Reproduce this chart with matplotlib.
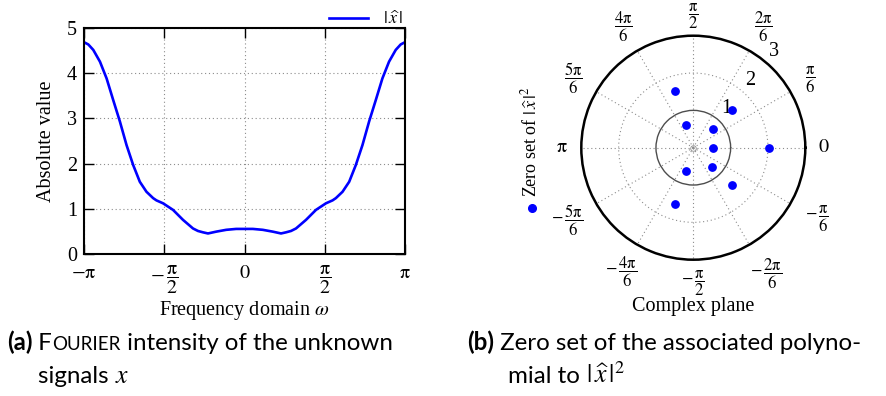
import matplotlib
matplotlib.use('Agg')
import matplotlib.pyplot as plt
import numpy as np

plt.rcParams['font.family'] = ['Liberation Serif', 'DejaVu Serif']
plt.rcParams['mathtext.fontset'] = 'stix'

# Fourier magnitude |x^(omega)| sampled over [-pi, pi]
omega = [-3.1416, -3.057, -2.960, -2.829, -2.699, -2.569, -2.439, -2.309, -2.179,
         -2.049, -1.919, -1.789, -1.724, -1.594, -1.399, -1.204, -1.008, -0.911,
         -0.813, -0.715, -0.553, -0.358, -0.163, 0.0,
         0.163, 0.358, 0.553, 0.715, 0.813, 0.911, 1.008, 1.204, 1.399, 1.594,
         1.724, 1.789, 1.919, 2.049, 2.179, 2.309, 2.439, 2.569, 2.699, 2.829,
         2.960, 3.057, 3.1416]
magnitude = [4.68, 4.63, 4.51, 4.25, 3.88, 3.40, 2.93, 2.41, 1.97,
             1.60, 1.38, 1.24, 1.19, 1.125, 0.98, 0.76, 0.57, 0.515,
             0.485, 0.46, 0.50, 0.54, 0.56, 0.56,
             0.56, 0.54, 0.50, 0.46, 0.485, 0.515, 0.57, 0.76, 0.98, 1.125,
             1.19, 1.24, 1.38, 1.60, 1.97, 2.41, 2.93, 3.40, 3.88, 4.25,
             4.51, 4.63, 4.68]

x_ticks = [-np.pi, -np.pi / 2, 0, np.pi / 2, np.pi]
x_ticklabels = ['$-\\mathrm{\\pi}$', '$-\\,\\dfrac{\\mathrm{\\pi}}{2}$', '$0$',
                '$\\dfrac{\\mathrm{\\pi}}{2}$', '$\\mathrm{\\pi}$']
y_ticks = [0, 1, 2, 3, 4, 5]

# zeros of the polynomial associated with |x^|^2 (polar form)
zero_r = [1.59, 1.44, 0.63, 0.72, 0.52, 2.02, 0.72, 0.65, 1.44, 1.59]
zero_theta_deg = [108, 44.5, 109, 44, 0, 0, -44.5, -108, -44.5, -108]

theta_ticks_deg = [0, 30, 60, 90, 120, 150, 180, 210, 240, 270, 300, 330]
theta_labels = ['$0$', '$\\dfrac{\\mathrm{\\pi}}{6}$', '$\\dfrac{2\\mathrm{\\pi}}{6}$',
                '$\\dfrac{\\mathrm{\\pi}}{2}$', '$\\dfrac{4\\mathrm{\\pi}}{6}$',
                '$\\dfrac{5\\mathrm{\\pi}}{6}$', '$\\mathrm{\\pi}$',
                '$-\\,\\dfrac{5\\mathrm{\\pi}}{6}$', '$-\\,\\dfrac{4\\mathrm{\\pi}}{6}$',
                '$-\\,\\dfrac{\\mathrm{\\pi}}{2}$', '$-\\,\\dfrac{2\\mathrm{\\pi}}{6}$',
                '$-\\,\\dfrac{\\mathrm{\\pi}}{6}$']
# distance of each angle label from the centre (axis units)
theta_label_r = [3.49, 3.62, 3.75, 3.51, 3.75, 3.71, 3.53, 3.92, 3.85, 3.63, 3.9, 3.81]
r_rings = [1, 2, 3]

W, H = 886, 396
fig = plt.figure(figsize=(W / 100, H / 100), dpi=100)

# (a) magnitude plot
ax = fig.add_axes([84 / W, 1 - 254.3 / H, 321 / W, 226.6 / H])
ax.plot(omega, magnitude, color=(0, 0, 1), lw=1.9, label='$|\\,\\widehat{x}\\,|$')
ax.set_xlim(-np.pi, np.pi)
ax.set_ylim(0, 5)
ax.set_xticks(x_ticks)
ax.set_xticklabels(x_ticklabels)
for lab in ax.get_xticklabels():
    if 'frac' in lab.get_text():
        lab.set_fontsize(12)
ax.set_yticks(y_ticks)
ax.tick_params(direction='in', length=7, width=1.0, top=True, right=True,
               labelsize=14.5, pad=5)
ax.tick_params(axis='x', pad=7)
ax.grid(True, linestyle=(0, (1, 2.5)), color='0.55', lw=0.8)
for s in ax.spines.values():
    s.set_linewidth(1.5)
ax.set_xlabel('Frequency domain $\\omega$', fontsize=14.5, labelpad=2)
ax.set_ylabel('Absolute value', fontsize=14.5, labelpad=8)
ax.legend(loc='lower right', bbox_to_anchor=(1.0, 0.99), frameon=False,
          fontsize=13, handlelength=2.2, borderaxespad=0, borderpad=0.1)

# (b) zeros in the complex plane
cx, cy, rad = 693.3, 147.7, 112
pax = fig.add_axes([(cx - rad) / W, 1 - (cy + rad) / H, 2 * rad / W, 2 * rad / H],
                   projection='polar')
pax.scatter(np.radians(zero_theta_deg), zero_r, s=28, color=(0, 0, 1), zorder=5,
            clip_on=False)
pax.set_rgrids(r_rings[:-1], labels=['', ''])
pax.set_ylim(0, 3)
glines = pax.yaxis.get_gridlines()
glines[0].set_linestyle('-')
glines[0].set_color('0.3')
glines[0].set_linewidth(1.0)
glines[1].set_linestyle((0, (1, 2.5)))
glines[1].set_color('0.55')
glines[1].set_linewidth(0.8)
pax.set_xticks(np.radians(theta_ticks_deg))
pax.set_xticklabels([''] * len(theta_ticks_deg))
pax.set_thetalim(0, 2 * np.pi)
pax.xaxis.grid(True, linestyle=(0, (1, 2.5)), color='0.55', lw=0.8)
pax.tick_params(axis='x', direction='inout', length=8, width=1.0)
pax.spines['polar'].set_linewidth(1.8)
pax.plot(0, 0, marker='o', ms=4, mfc='none', mec='0.55', mew=0.6)
for deg, lab, lr in zip(theta_ticks_deg, theta_labels, theta_label_r):
    pax.text(np.radians(deg), lr, lab, ha='center', va='center',
             fontsize=12 if 'frac' in lab else 14.5, clip_on=False)
for r in r_rings:
    pax.text(np.radians(50), r + 0.36, str(r), ha='center', va='center',
             fontsize=14.5, clip_on=False)
fig.text(cx / W, 1 - 306 / H, 'Complex plane', ha='center', va='center',
         fontsize=14.5)

# rotated legend for the zero set
fig.lines.append(plt.Line2D([531.5 / W], [1 - 208.3 / H], transform=fig.transFigure,
                            marker='o', ms=5.5, color=(0, 0, 1), lw=0))
fig.text(530 / W, 1 - 141.5 / H, 'Zero set of $|\\,\\widehat{x}\\,|^2$', rotation=90,
         ha='center', va='center', fontsize=13)

# captions
renderer = fig.canvas.get_renderer()
cap = dict(family=['Lato', 'DejaVu Sans'], fontsize=17.4)


def write_runs(x_px, y_px, runs):
    for text, kw in runs:
        style = dict(cap)
        style.update(kw)
        t = fig.text(x_px / W, 1 - y_px / H, text, va='baseline', ha='left', **style)
        x_px = t.get_window_extent(renderer).x1


write_runs(7, 350, [('(a)', dict(weight='bold')), (' F', {}),
                    ('OURIER', dict(fontsize=13.5)), (' intensity of the unknown', {})])
write_runs(38, 383, [('signals ', {}), ('$x$', dict(fontsize=18.5))])
write_runs(467, 350, [('(b)', dict(weight='bold')),
                      (' Zero set of the associated polyno-', {})])
write_runs(508, 383, [('mial to ', {}), ('$|\\,\\widehat{x}\\,|^2$', dict(fontsize=18.5))])

fig.savefig('out.png', dpi=100)
